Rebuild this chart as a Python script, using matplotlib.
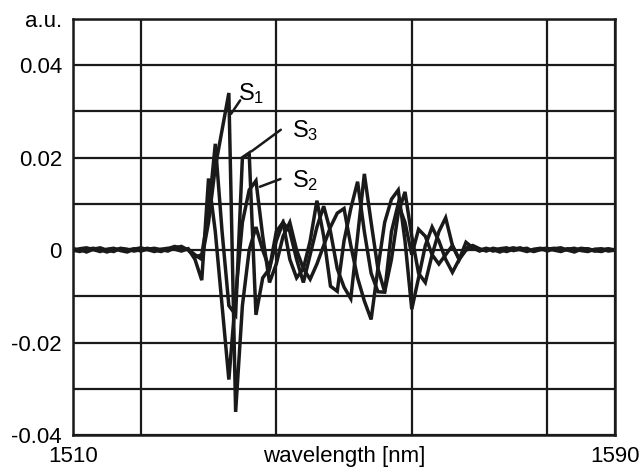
import numpy as np
import matplotlib
matplotlib.use("Agg")
import matplotlib.pyplot as plt

plt.rcParams['font.family'] = ['Liberation Sans', 'DejaVu Sans']
plt.rcParams['mathtext.default'] = 'regular'

## wavelength grid, 1 nm steps
wavelength = np.arange(1510, 1591, 1)

s1 = [0.0003, 0.0001, -0.0004, 0.0002, 0.0005, 0.0000, -0.0003, 0.0004, 0.0002, -0.0002,
      0.0001, 0.0004, 0.0000, -0.0003, 0.0003, 0.0008, 0.0004, 0.0002, -0.0010, -0.0020,
      0.0060, 0.0180, 0.0260, 0.0340, -0.0350, -0.0120, 0.0000, 0.0050, 0.0000, -0.0040,
      0.0020, 0.0060, 0.0040, -0.0020, -0.0070, -0.0010, 0.0050, 0.0095, 0.0040, -0.0040,
      -0.0080, -0.0105, 0.0030, 0.0165, 0.0060, -0.0040, -0.0090, -0.0020, 0.0080, 0.0126,
      0.0030, -0.0050, -0.0070, -0.0010, 0.0040, 0.0070, 0.0010, -0.0020, 0.0005, 0.0010,
      0.0003, -0.0002, 0.0004, 0.0001, -0.0003, 0.0002, 0.0005, 0.0000, -0.0002, 0.0003,
      0.0004, 0.0000, -0.0003, 0.0002, 0.0004, -0.0001, -0.0003, 0.0002, 0.0003, -0.0002, 0.0000]

s2 = [-0.0002, 0.0003, 0.0005, 0.0001, -0.0003, 0.0002, 0.0004, -0.0001, -0.0004, 0.0002,
      0.0005, 0.0001, -0.0003, 0.0002, 0.0004, 0.0002, -0.0002, 0.0003, -0.0020, -0.0065,
      0.0155, 0.0040, -0.0120, -0.0280, -0.0100, 0.0060, 0.0130, 0.0150, 0.0030, -0.0070,
      -0.0030, 0.0030, 0.0060, 0.0000, -0.0040, -0.0063, -0.0030, 0.0010, 0.0050, 0.0080,
      0.0090, 0.0010, -0.0060, -0.0110, -0.0150, -0.0040, 0.0060, 0.0110, 0.0130, 0.0020,
      -0.0128, -0.0060, 0.0010, 0.0050, 0.0020, -0.0020, -0.0048, -0.0020, 0.0000, 0.0005,
      -0.0002, 0.0003, 0.0001, -0.0004, 0.0002, 0.0005, 0.0001, -0.0003, 0.0002, 0.0004,
      -0.0002, 0.0003, 0.0005, 0.0000, -0.0004, 0.0002, 0.0003, -0.0001, -0.0003, 0.0002, 0.0001]

s3 = [0.0000, -0.0003, 0.0002, 0.0004, 0.0001, -0.0004, 0.0001, 0.0003, 0.0000, 0.0003,
      -0.0002, 0.0002, 0.0004, 0.0001, -0.0002, 0.0005, 0.0008, 0.0000, -0.0015, -0.0010,
      0.0080, 0.0230, 0.0040, -0.0120, -0.0140, 0.0200, 0.0210, -0.0140, -0.0060, -0.0040,
      0.0040, 0.0060, -0.0020, -0.0060, -0.0040, 0.0020, 0.0107, 0.0030, -0.0078, -0.0089,
      0.0020, 0.0090, 0.0148, 0.0040, -0.0050, -0.0090, -0.0091, 0.0040, 0.0100, 0.0060,
      -0.0010, 0.0045, 0.0030, -0.0010, -0.0030, -0.0010, 0.0010, -0.0020, 0.0017, 0.0005,
      0.0000, 0.0004, -0.0002, 0.0003, 0.0005, -0.0001, 0.0002, 0.0004, -0.0003, 0.0001,
      0.0002, 0.0004, -0.0001, 0.0003, 0.0000, 0.0004, 0.0002, -0.0002, 0.0001, 0.0003, -0.0001]

x_ticks = [1510, 1520, 1540, 1560, 1580, 1590]
x_labels = ['1510', '', '', '', '', '1590']
y_ticks = [-0.04, -0.03, -0.02, -0.01, 0, 0.01, 0.02, 0.03, 0.04, 0.05]
y_labels = ['-0.04', '', '-0.02', '', '0', '', '0.02', '', '0.04', 'a.u.']

fig = plt.figure(figsize=(6.44, 4.71), dpi=100)
ax = fig.add_axes([0.1134, 0.0764, 0.8416, 0.8832])

for series in [s1, s2, s3]:
    ax.plot(wavelength, series, color='#1a1a1a', lw=2.5, solid_joinstyle='miter', zorder=3)

ax.set_xlim(1510, 1590)
ax.set_ylim(-0.04, 0.05)
ax.set_xticks(x_ticks)
ax.set_xticklabels(x_labels)
ax.set_yticks(y_ticks)
ax.set_yticklabels(y_labels)
ax.tick_params(length=0, labelsize=16, pad=8)
ax.grid(True, color='#1a1a1a', lw=1.6)
for sp in ax.spines.values():
    sp.set_linewidth(1.8)
    sp.set_color('#1a1a1a')

ax.set_xlabel('wavelength [nm]', fontsize=16)
ax.xaxis.set_label_coords(0.5, -0.026)

# curve labels with leader lines
ax.text(1534.3, 0.0325, 'S$_1$', fontsize=17, ha='left', va='baseline')
ax.annotate('', xy=(1533.1, 0.0290), xytext=(1534.9, 0.0329),
            arrowprops=dict(arrowstyle='-', lw=1.8, color='#1a1a1a'))
ax.text(1542.3, 0.0245, 'S$_3$', fontsize=17, ha='left', va='baseline')
ax.annotate('', xy=(1536.0, 0.0210), xytext=(1541.0, 0.0264),
            arrowprops=dict(arrowstyle='-', lw=1.8, color='#1a1a1a'))
ax.text(1542.3, 0.0136, 'S$_2$', fontsize=17, ha='left', va='baseline')
ax.annotate('', xy=(1537.2, 0.0135), xytext=(1541.0, 0.0156),
            arrowprops=dict(arrowstyle='-', lw=1.8, color='#1a1a1a'))

fig.savefig('out.png', dpi=100)
